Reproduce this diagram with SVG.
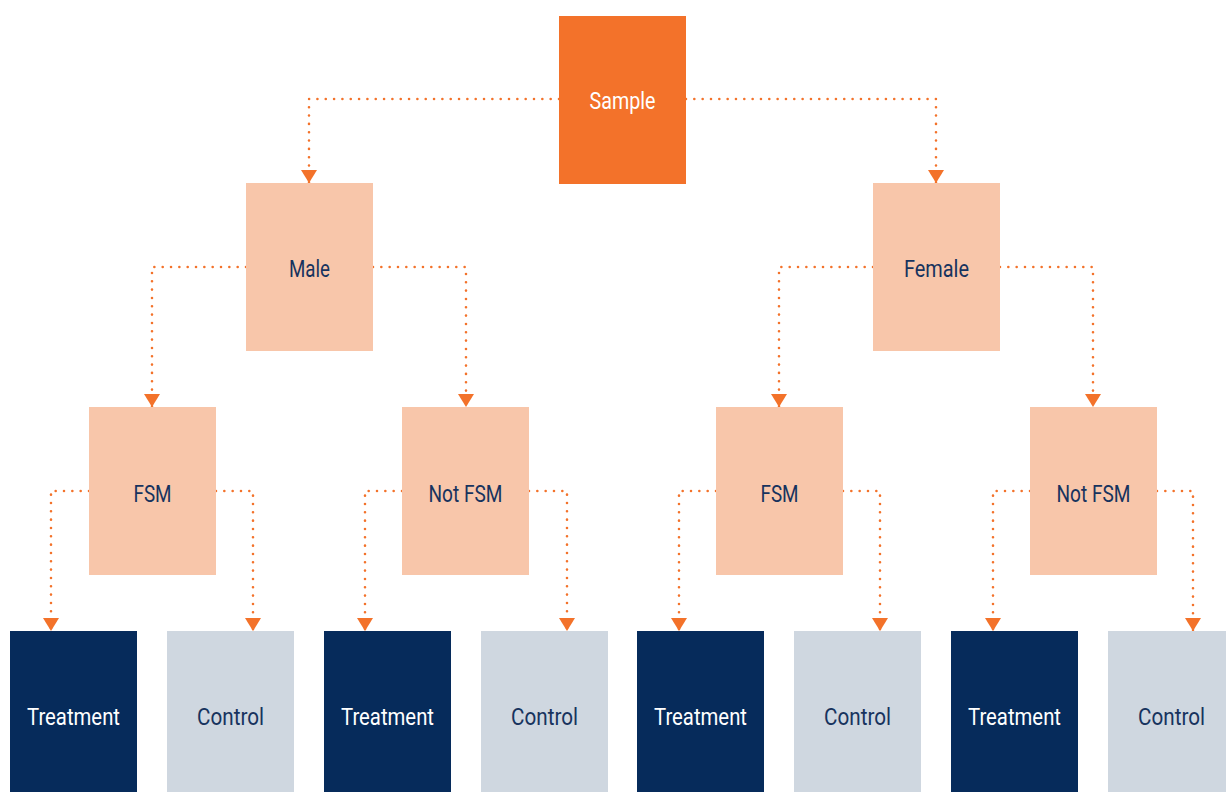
<svg xmlns="http://www.w3.org/2000/svg" width="1226" height="792" viewBox="0 0 1226 792">
  <style>
    .root { fill: #F3722A; }
    .mid { fill: #F8C6AA; }
    .treat { fill: #062B5B; }
    .ctrl { fill: #CFD7E0; }
    text { font-family: Roboto, "Liberation Sans", sans-serif; font-size: 23px; text-anchor: middle; }
    .light { fill: #FFFFFF; }
    .dark { fill: #17335E; }
    .link { fill: none; stroke: #F3722A; stroke-width: 2.6; stroke-linecap: round; stroke-dasharray: 0 8.33; marker-end: url(#head); }
  </style>
  <defs>
    <marker id="head" markerUnits="userSpaceOnUse" markerWidth="16" markerHeight="13" viewBox="0 0 16 13" refX="8" refY="13" orient="0">
      <path d="M0,0 L16,0 L8,13 Z" fill="#F3722A"/>
    </marker>
  </defs>
  <rect width="1226" height="792" fill="#FFFFFF"/>

  <g id="connectors">
    <!-- Sample to sexes -->
    <path class="link" d="M559,99 H309 V183"/>
    <path class="link" d="M686,99 H936 V183"/>
    <!-- Male to FSM groups -->
    <path class="link" d="M246,267 H152 V407"/>
    <path class="link" d="M373,267 H466 V407"/>
    <!-- Female to FSM groups -->
    <path class="link" d="M873,267 H779 V407"/>
    <path class="link" d="M1000,267 H1093 V407"/>
    <!-- FSM groups to arms -->
    <path class="link" d="M89,491 H51 V631"/>
    <path class="link" d="M216,491 H253 V631"/>
    <path class="link" d="M402,491 H365 V631"/>
    <path class="link" d="M529,491 H567 V631"/>
    <path class="link" d="M716,491 H679 V631"/>
    <path class="link" d="M843,491 H880 V631"/>
    <path class="link" d="M1030,491 H993 V631"/>
    <path class="link" d="M1157,491 H1193 V631"/>
  </g>

  <g id="sample">
    <rect class="root" x="559" y="16" width="127" height="168"/>
    <text class="light" x="622.5" y="109" textLength="66" lengthAdjust="spacingAndGlyphs">Sample</text>
  </g>

  <g id="male">
    <rect class="mid" x="246" y="183" width="127" height="168"/>
    <text class="dark" x="309.5" y="277" textLength="41" lengthAdjust="spacingAndGlyphs">Male</text>
  </g>
  <g id="female">
    <rect class="mid" x="873" y="183" width="127" height="168"/>
    <text class="dark" x="936.5" y="277" textLength="65" lengthAdjust="spacingAndGlyphs">Female</text>
  </g>

  <g id="male-fsm">
    <rect class="mid" x="89" y="407" width="127" height="168"/>
    <text class="dark" x="152.5" y="501.5" textLength="38" lengthAdjust="spacingAndGlyphs">FSM</text>
  </g>
  <g id="male-not-fsm">
    <rect class="mid" x="402" y="407" width="127" height="168"/>
    <text class="dark" x="465.5" y="501.5" textLength="74" lengthAdjust="spacingAndGlyphs">Not FSM</text>
  </g>
  <g id="female-fsm">
    <rect class="mid" x="716" y="407" width="127" height="168"/>
    <text class="dark" x="779.5" y="501.5" textLength="38" lengthAdjust="spacingAndGlyphs">FSM</text>
  </g>
  <g id="female-not-fsm">
    <rect class="mid" x="1030" y="407" width="127" height="168"/>
    <text class="dark" x="1093.5" y="501.5" textLength="74" lengthAdjust="spacingAndGlyphs">Not FSM</text>
  </g>

  <g id="treatment-1">
    <rect class="treat" x="10" y="631" width="127" height="161"/>
    <text class="light" x="73.5" y="725" textLength="93" lengthAdjust="spacingAndGlyphs">Treatment</text>
  </g>
  <g id="control-1">
    <rect class="ctrl" x="167" y="631" width="127" height="161"/>
    <text class="dark" x="230.5" y="725" textLength="67" lengthAdjust="spacingAndGlyphs">Control</text>
  </g>
  <g id="treatment-2">
    <rect class="treat" x="324" y="631" width="127" height="161"/>
    <text class="light" x="387.5" y="725" textLength="93" lengthAdjust="spacingAndGlyphs">Treatment</text>
  </g>
  <g id="control-2">
    <rect class="ctrl" x="481" y="631" width="127" height="161"/>
    <text class="dark" x="544.5" y="725" textLength="67" lengthAdjust="spacingAndGlyphs">Control</text>
  </g>
  <g id="treatment-3">
    <rect class="treat" x="637" y="631" width="127" height="161"/>
    <text class="light" x="700.5" y="725" textLength="93" lengthAdjust="spacingAndGlyphs">Treatment</text>
  </g>
  <g id="control-3">
    <rect class="ctrl" x="794" y="631" width="127" height="161"/>
    <text class="dark" x="857.5" y="725" textLength="67" lengthAdjust="spacingAndGlyphs">Control</text>
  </g>
  <g id="treatment-4">
    <rect class="treat" x="951" y="631" width="127" height="161"/>
    <text class="light" x="1014.5" y="725" textLength="93" lengthAdjust="spacingAndGlyphs">Treatment</text>
  </g>
  <g id="control-4">
    <rect class="ctrl" x="1108" y="631" width="127" height="161"/>
    <text class="dark" x="1171.5" y="725" textLength="67" lengthAdjust="spacingAndGlyphs">Control</text>
  </g>
</svg>
